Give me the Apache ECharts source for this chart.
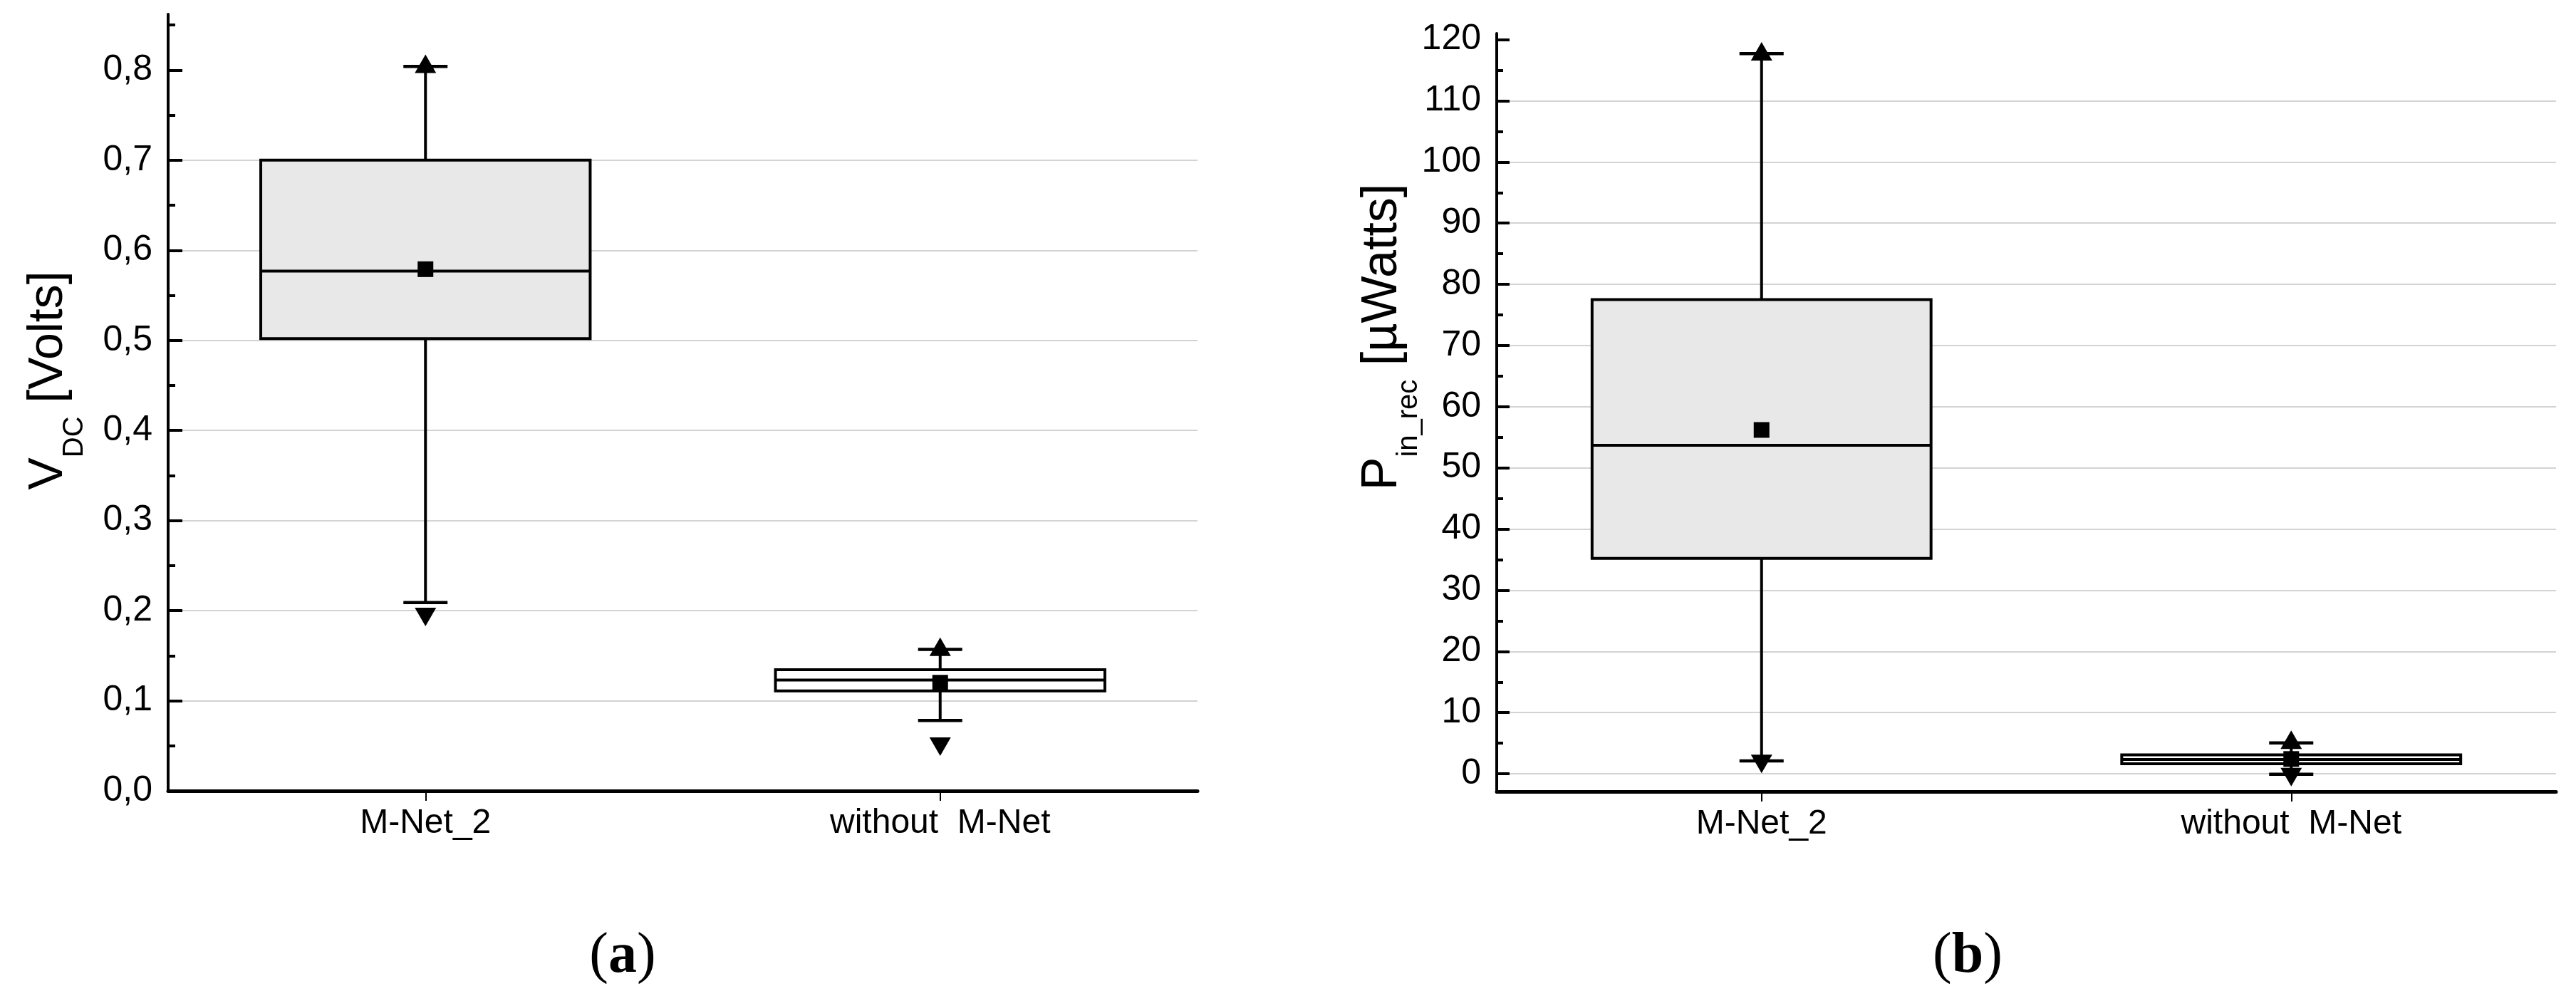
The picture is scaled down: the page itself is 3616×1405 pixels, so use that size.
<!DOCTYPE html>
<html>
<head>
<meta charset="utf-8">
<script src="https://cdn.jsdelivr.net/npm/echarts@6/dist/echarts.min.js"></script>
<style>
html,body{margin:0;padding:0;background:#fff;}
#chart{width:3616px;height:1405px;}
</style>
</head>
<body>
<div id="chart"></div>
<script>
// ---- data ----
const categories = ['M-Net_2', 'without  M-Net'];

// (a) V_DC [Volts]
const vdcWhiskerLow  = [0.209, 0.078];
const vdcQ1          = [0.502, 0.111];
const vdcMedian      = [0.577, 0.123];
const vdcQ3          = [0.700, 0.1345];
const vdcWhiskerHigh = [0.804, 0.157];
const vdcMean        = [0.579, 0.120];
const vdcMaxPoint    = [0.807, 0.160];
const vdcMinPoint    = [0.193, 0.049];
const vdcTicks       = [0, 0.1, 0.2, 0.3, 0.4, 0.5, 0.6, 0.7, 0.8];
const vdcMinorTicks  = [0.05, 0.15, 0.25, 0.35, 0.45, 0.55, 0.65, 0.75, 0.85];

// (b) P_in_rec [µWatts]
const pinWhiskerLow  = [2.1, -0.07];
const pinQ1          = [35.2, 1.64];
const pinMedian      = [53.7, 2.34];
const pinQ3          = [77.5, 3.10];
const pinWhiskerHigh = [117.7, 5.05];
const pinMean        = [56.2, 2.42];
const pinMaxPoint    = [118.1, 5.57];
const pinMinPoint    = [1.6, -0.54];
const pinTicks       = [0, 10, 20, 30, 40, 50, 60, 70, 80, 90, 100, 110, 120];
const pinMinorTicks  = [5, 15, 25, 35, 45, 55, 65, 75, 85, 95, 105, 115];

// ---- styles ----
const FONT = 'Liberation Sans';
const boxFills = ['#e8e8e8', '#ffffff'];

function boxRender(params, api) {
  const idx = api.value(0);
  const pLow = api.coord([idx, api.value(1)]);
  const pQ1 = api.coord([idx, api.value(2)]);
  const pMed = api.coord([idx, api.value(3)]);
  const pQ3 = api.coord([idx, api.value(4)]);
  const pHigh = api.coord([idx, api.value(5)]);
  const band = api.size([1, 0])[0];
  const bw = band * 0.64;
  const cap = 62;
  const cx = pQ1[0];
  const stroke = { stroke: '#000', lineWidth: 4 };
  return {
    type: 'group',
    children: [
      { type: 'line', shape: { x1: cx, y1: pQ1[1], x2: cx, y2: pLow[1] }, style: stroke },
      { type: 'line', shape: { x1: cx, y1: pQ3[1], x2: cx, y2: pHigh[1] }, style: stroke },
      { type: 'line', shape: { x1: cx - cap / 2, y1: pLow[1], x2: cx + cap / 2, y2: pLow[1] }, style: { stroke: '#000', lineWidth: 4.5 } },
      { type: 'line', shape: { x1: cx - cap / 2, y1: pHigh[1], x2: cx + cap / 2, y2: pHigh[1] }, style: { stroke: '#000', lineWidth: 4.5 } },
      { type: 'rect', shape: { x: cx - bw / 2, y: pQ3[1], width: bw, height: pQ1[1] - pQ3[1] },
        style: { fill: boxFills[idx], stroke: '#000', lineWidth: 4 } },
      { type: 'line', shape: { x1: cx - bw / 2, y1: pMed[1], x2: cx + bw / 2, y2: pMed[1] }, style: stroke }
    ]
  };
}

function boxData(lo, q1, med, q3, hi) {
  return categories.map((c, i) => [i, lo[i], q1[i], med[i], q3[i], hi[i]]);
}
function pts(arr) { return categories.map((c, i) => [i, arr[i]]); }

function xAxisCfg(gridIndex) {
  return {
    type: 'category', gridIndex, data: categories, boundaryGap: true, position: 'bottom',
    axisLine: { show: true, onZero: false, lineStyle: { color: '#000', width: 5 } },
    axisTick: { show: true, alignWithLabel: true, inside: false, length: 14, lineStyle: { color: '#000', width: 2 } },
    axisLabel: { color: '#000', fontFamily: FONT, fontSize: 48, margin: 22 },
    splitLine: { show: false }
  };
}
function yMajor(gridIndex, min, max, ticks, fmt, tickLen) {
  return {
    type: 'value', gridIndex, min, max, position: 'left',
    axisLine: { show: true, onZero: false, lineStyle: { color: '#000', width: 4 } },
    axisTick: { show: true, inside: true, length: tickLen, customValues: ticks, lineStyle: { color: '#000', width: 4 } },
    axisLabel: { show: true, customValues: ticks, formatter: fmt, color: '#000', fontFamily: FONT, fontSize: 50, margin: 22 },
    splitLine: { show: true, showMaxLine: false, showMinLine: true, lineStyle: { color: '#d3d3d3', width: 2 } }
  };
}
function yMinor(gridIndex, min, max, ticks, tickLen) {
  return {
    type: 'value', gridIndex, min, max, position: 'left', offset: 0,
    axisLine: { show: false, onZero: false },
    axisTick: { show: true, inside: true, length: tickLen, customValues: ticks, lineStyle: { color: '#000', width: 4 } },
    axisLabel: { show: false },
    splitLine: { show: false }
  };
}

function markerSeries(xi, yi, mean, maxP, minP) {
  const st = { color: '#000', opacity: 1 };
  return [
    { type: 'scatter', xAxisIndex: xi, yAxisIndex: yi, symbol: 'rect', symbolSize: 22,
      itemStyle: st, data: pts(mean), z: 5 },
    { type: 'scatter', xAxisIndex: xi, yAxisIndex: yi, symbol: 'triangle', symbolSize: [30, 26],
      itemStyle: st, data: pts(maxP), z: 5 },
    { type: 'scatter', xAxisIndex: xi, yAxisIndex: yi, symbol: 'triangle', symbolSize: [30, 26], symbolRotate: 180,
      itemStyle: st, data: pts(minP), z: 5 }
  ];
}

function yTitle(x, y, main, sub, unit, mainSize) {
  return {
    type: 'text', x, y, rotation: Math.PI / 2, z: 10,
    style: {
      text: '{m|' + main + '}{s|' + sub + '}{m| ' + unit + '}',
      fill: '#000',
      align: 'center', verticalAlign: 'middle',
      textAlign: 'center', textVerticalAlign: 'middle',
      rich: {
        m: { fontFamily: FONT, fontSize: mainSize, lineHeight: 114, verticalAlign: 'middle', fill: '#000' },
        s: { fontFamily: FONT, fontSize: 40, lineHeight: 40, verticalAlign: 'bottom', fill: '#000' }
      }
    }
  };
}
function panelLabel(x, y, letter) {
  return {
    type: 'text', x, y, z: 10,
    style: {
      text: '{p|(}{b|' + letter + '}{p|)}',
      fill: '#000',
      align: 'center', verticalAlign: 'middle',
      textAlign: 'center', textVerticalAlign: 'middle',
      rich: {
        p: { fontFamily: 'Liberation Serif', fontSize: 80, fill: '#000' },
        b: { fontFamily: 'Liberation Serif', fontSize: 80, fontWeight: 'bold', fill: '#000' }
      }
    }
  };
}

const chart = echarts.init(document.getElementById('chart'), null, { renderer: 'canvas' });
chart.setOption({
  animation: false,
  backgroundColor: '#fff',
  grid: [
    { left: 236, top: 20, width: 1445, height: 1090, outerBoundsMode: 'none', containLabel: false },
    { left: 2101, top: 47, width: 1487, height: 1064, outerBoundsMode: 'none', containLabel: false }
  ],
  xAxis: [xAxisCfg(0), xAxisCfg(1)],
  yAxis: [
    yMajor(0, 0, 0.862, vdcTicks, v => v.toFixed(1).replace('.', ','), 20),
    yMinor(0, 0, 0.862, vdcMinorTicks, 10),
    yMajor(1, -2.9, 121, pinTicks, v => String(Math.round(v)), 18),
    yMinor(1, -2.9, 121, pinMinorTicks, 9)
  ],
  series: [
    { type: 'custom', xAxisIndex: 0, yAxisIndex: 0, renderItem: boxRender, z: 3,
      encode: { x: 0, y: [1, 2, 3, 4, 5] },
      data: boxData(vdcWhiskerLow, vdcQ1, vdcMedian, vdcQ3, vdcWhiskerHigh) },
    ...markerSeries(0, 0, vdcMean, vdcMaxPoint, vdcMinPoint),
    { type: 'custom', xAxisIndex: 1, yAxisIndex: 2, renderItem: boxRender, z: 3,
      encode: { x: 0, y: [1, 2, 3, 4, 5] },
      data: boxData(pinWhiskerLow, pinQ1, pinMedian, pinQ3, pinWhiskerHigh) },
    ...markerSeries(1, 2, pinMean, pinMaxPoint, pinMinPoint)
  ],
  graphic: [
    yTitle(68, 534, 'V', 'DC', '[Volts]', 68),
    yTitle(1941, 473, 'P', 'in_rec', '[µWatts]', 70),
    panelLabel(874, 1343, 'a'),
    panelLabel(2762, 1343, 'b')
  ]
});
</script>
</body>
</html>
